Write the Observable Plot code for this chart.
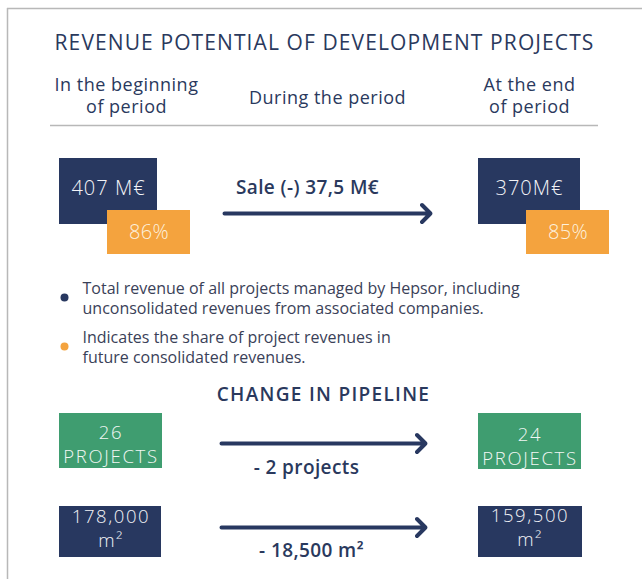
<!DOCTYPE html>
<html><head><meta charset="utf-8">
<script src="https://cdn.jsdelivr.net/npm/d3@7"></script>
<script src="https://cdn.jsdelivr.net/npm/@observablehq/plot@0.6"></script>
<style>body{margin:0;background:#fff;} #chart svg{display:block;}</style>
</head><body><div id="chart"></div><script>
// ---- data ----
const title = "REVENUE POTENTIAL OF DEVELOPMENT PROJECTS";
const periodLabels = [["In the beginning", "of period"], ["During the period"], ["At the end", "of period"]];
const revenueValues = [407, 370];
const revenueLabels = ["407 M€", "370M€"];
const shareValues = [86, 85];
const saleLabel = "Sale (-) 37,5 M€";
const legendLabels = [
  ["Total revenue of all projects managed by Hepsor, including", "unconsolidated revenues from associated companies."],
  ["Indicates the share of project revenues in", "future consolidated revenues."]
];
const pipelineTitle = "CHANGE IN PIPELINE";
const projectCounts = [26, 24];
const projectUnit = "PROJECTS";
const projectChangeLabel = "- 2 projects";
const areaLabels = ["178,000", "159,500"];
const areaUnit = "m²";
const areaChangeLabel = "- 18,500 m²";

// ---- colours ----
const NAVY = "#283860", ORANGE = "#f4a33e", GREEN = "#3f9d70", TEXT = "#2a395d", GREY = "#b8b8b8";
const FONT = "Open Sans";

// ---- layout (pixel layout of the infographic) ----
const colBox = [59, 478];          // left edge of value boxes
const colCenter = [126, 327, 529]; // header column centres
const rows = {
  title: 43, header: [85, 107], headerMid: 98, divider: 125,
  rev: [158, 224], share: [210, 254], sale: 187, saleArrow: 213,
  legendDot: [297, 346], legendLine: [[288, 308], [337, 357]],
  pipeTitle: 394, proj: [413, 468], projText: [[433, 457], [435, 459]], projArrow: 443, projLabel: 467,
  area: [506, 557], areaText: [[517, 541], [516, 540]], areaArrow: 527, areaLabel: 550
};

const revBoxes = revenueValues.map((v, i) => ({x1: colBox[i], x2: colBox[i] + (i ? 102 : 98), y1: rows.rev[0], y2: rows.rev[1], label: revenueLabels[i]}));
const shareBoxes = shareValues.map((v, i) => ({x1: colBox[i] + 48, x2: colBox[i] + 131, y1: rows.share[0], y2: rows.share[1], label: v + "%"}));
const projBoxes = projectCounts.map((v, i) => ({x1: colBox[i], x2: colBox[i] + 103, y1: rows.proj[0], y2: rows.proj[1] + (i ? 1 : 0)}));
const projText = projectCounts.flatMap((v, i) => [String(v), projectUnit].map((t, j) => ({x: colBox[i] + 51.5, y: rows.projText[i][j], t})));
const areaBoxes = areaLabels.map((v, i) => ({x1: colBox[i], x2: colBox[i] + (i ? 104 : 102), y1: rows.area[0], y2: rows.area[1]}));
const areaText = areaLabels.flatMap((v, i) => [v, areaUnit].map((t, j) => ({x: colBox[i] + 51.5, y: rows.areaText[i][j], t})));
const headers = periodLabels.flatMap((lines, i) => lines.map((t, j) => ({x: colCenter[i], y: lines.length === 1 ? rows.headerMid : rows.header[j], t})));
const arrows = [
  {y: rows.saleArrow, x1: 224, x2: 430},
  {y: rows.projArrow, x1: 221, x2: 425},
  {y: rows.areaArrow, x1: 221, x2: 425}
];
const arrowLabels = [
  {x: 307, y: rows.sale, t: saleLabel},
  {x: 306, y: rows.projLabel, t: projectChangeLabel},
  {x: 311, y: rows.areaLabel, t: areaChangeLabel}
];
const legendDots = legendLabels.map((t, i) => ({x: 64, y: rows.legendDot[i], c: i ? ORANGE : NAVY}));
const legendText = legendLabels.flatMap((lines, i) => lines.map((t, j) => ({x: 82, y: rows.legendLine[i][j], t})));

const cx = b => (b.x1 + b.x2) / 2, cy = b => (b.y1 + b.y2) / 2;

const textMarks = [];
const T = (data, opts, spacing) => { textMarks.push(spacing); return Plot.text(data, opts); };

const chart = Plot.plot({
  width: 642, height: 579, margin: 0,
  x: {domain: [0, 642], range: [0, 642], axis: null},
  y: {domain: [0, 579], range: [0, 579], axis: null},
  style: {fontFamily: FONT, background: "#fff"},
  marks: [
    // frame
    Plot.ruleX([7], {y1: 8, y2: 579, stroke: GREY, strokeWidth: 1.5}),
    Plot.ruleY([8], {x1: 7, x2: 642, stroke: GREY, strokeWidth: 1.5}),
    // title & headers
    T([title], {x: 324, y: rows.title, text: d => d, fontSize: 21, fill: TEXT, fontWeight: 500}, 1.1),
    T(headers, {x: "x", y: "y", text: "t", fontSize: 18, fill: TEXT}, 0.5),
    Plot.ruleY([rows.divider], {x1: 50, x2: 598, stroke: GREY, strokeWidth: 1.5}),
    // revenue boxes
    Plot.rect(revBoxes, {x1: "x1", x2: "x2", y1: "y1", y2: "y2", fill: NAVY}),
    T(revBoxes, {x: cx, y: d => cy(d) - 3, text: "label", fill: "#f2f3f7", fontSize: 20, fontWeight: 300}, 1),
    Plot.rect(shareBoxes, {x1: "x1", x2: "x2", y1: "y1", y2: "y2", fill: ORANGE}),
    T(shareBoxes, {x: cx, y: cy, text: "label", fill: "#fdf1de", fontSize: 20, fontWeight: 300}, 0.3),
    // arrows
    Plot.arrow(arrows, {x1: "x1", x2: "x2", y1: "y", y2: "y", stroke: NAVY, strokeWidth: 4, headLength: 4.5, headAngle: 90}),
    T(arrowLabels, {x: "x", y: "y", text: "t", fill: TEXT, fontSize: 19, fontWeight: 600}, 0.4),
    // legend
    Plot.dot(legendDots, {x: "x", y: "y", r: 4, fill: "c"}),
    T(legendText, {x: "x", y: "y", text: "t", textAnchor: "start", fill: "#3a4158", fontSize: 16}, 0),
    // pipeline
    T([pipelineTitle], {x: 323, y: rows.pipeTitle, text: d => d, fill: TEXT, fontSize: 19, fontWeight: 600}, 1.3),
    Plot.rect(projBoxes, {x1: "x1", x2: "x2", y1: "y1", y2: "y2", fill: GREEN}),
    T(projText, {x: "x", y: "y", text: "t", fill: "#f2f7f4", fontSize: 18.5, fontWeight: 300}, 1.7),
    Plot.rect(areaBoxes, {x1: "x1", x2: "x2", y1: "y1", y2: "y2", fill: NAVY}),
    T(areaText, {x: "x", y: "y", text: "t", fill: "#f2f3f7", fontSize: 18.5, fontWeight: 300}, 1.6)
  ]
});
// apply letter spacing to text marks (in mark order)
d3.select(chart).selectAll("g[aria-label='text']").each(function (d, i) {
  const s = textMarks[i];
  if (s) d3.select(this).style("letter-spacing", s + "px");
});
document.getElementById("chart").appendChild(chart);
</script></body></html>
